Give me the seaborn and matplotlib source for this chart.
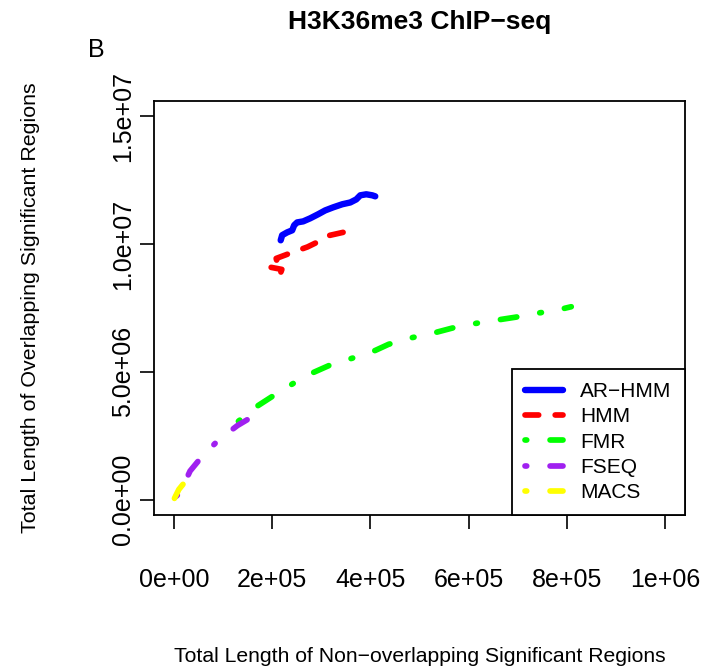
import matplotlib
matplotlib.use("Agg")
import matplotlib.pyplot as plt
import seaborn as sns
import pandas as pd

# Cumulative overlap curves for the H3K36me3 peak callers
methods = ["AR−HMM", "HMM", "FMR", "FSEQ", "MACS"]
colors = ["#0000FF", "#FF0000", "#00FF00", "#A020F0", "#FFFF00"]

ar_hmm_x = [217.4e3, 220.4e3, 230.6e3, 240.8e3, 244.9e3, 251.0e3, 263.2e3, 277.5e3, 293.8e3,
            308.1e3, 324.4e3, 342.8e3, 359.1e3, 371.3e3, 379.5e3, 391.7e3, 403.9e3, 410.0e3]
ar_hmm_y = [10.15e6, 10.35e6, 10.46e6, 10.54e6, 10.74e6, 10.85e6, 10.89e6, 11.01e6, 11.17e6,
            11.32e6, 11.44e6, 11.56e6, 11.63e6, 11.75e6, 11.91e6, 11.95e6, 11.91e6, 11.87e6]

hmm_x = [198.0e3, 219.8e3, 216.4e3, 208.2e3, 238.8e3, 272.0e3, 291.2e3, 309.6e3, 349.0e3]
hmm_y = [9.09e6, 9.01e6, 8.83e6, 9.44e6, 9.66e6, 9.89e6, 10.07e6, 10.31e6, 10.48e6]

fmr_x = [131.3e3, 168.8e3, 202.7e3, 242.3e3, 284.3e3, 318.3e3, 363.8e3, 410.1e3, 437.2e3,
         484.9e3, 532.4e3, 569.8e3, 615.4e3, 658.3e3, 695.6e3, 737.8e3, 780.6e3, 809.2e3]
fmr_y = [3.07e6, 3.65e6, 4.07e6, 4.54e6, 4.98e6, 5.27e6, 5.54e6, 5.84e6, 6.08e6,
         6.34e6, 6.54e6, 6.73e6, 6.90e6, 7.03e6, 7.14e6, 7.29e6, 7.42e6, 7.55e6]

fseq_x = [4.3e3, 12.4e3, 32.8e3, 56.7e3, 90.5e3, 129.3e3, 160.7e3]
fseq_y = [0.13e6, 0.27e6, 1.12e6, 1.68e6, 2.33e6, 2.90e6, 3.26e6]

macs_x = [1.0e3, 10.0e3, 22.6e3]
macs_y = [0.05e6, 0.40e6, 0.70e6]

x_ticks = [0, 2e5, 4e5, 6e5, 8e5, 1e6]
x_tick_labels = ["0e+00", "2e+05", "4e+05", "6e+05", "8e+05", "1e+06"]
y_ticks = [0, 5e6, 1e7, 1.5e7]
y_tick_labels = ["0.0e+00", "5.0e+06", "1.0e+07", "1.5e+07"]

series = [(ar_hmm_x, ar_hmm_y), (hmm_x, hmm_y), (fmr_x, fmr_y), (fseq_x, fseq_y), (macs_x, macs_y)]
# dash patterns in line-width units: solid, dashed, dot-dash
patterns = [None, (2.4, 2.9), (0.3, 4.1, 2.9, 4.1), (0.3, 4.1, 2.9, 4.1), (0.3, 4.1, 2.9, 4.1)]
offsets = [0, 0, 0, 0, 4.4]
widths = [4.6, 4.1, 4.1, 4.1, 4.1]

sns.set_style("ticks")
plt.rcParams["font.family"] = ["Liberation Sans", "DejaVu Sans"]
plt.rcParams["text.color"] = "black"
plt.rcParams["axes.labelcolor"] = "black"

fig = plt.figure(figsize=(7.03, 6.69), dpi=100)
ax = fig.add_axes([0.2195, 0.2302, 0.7543, 0.6188])

handles = []
for name, col, (xs, ys), pat, off, lw in zip(methods, colors, series, patterns, offsets, widths):
    df = pd.DataFrame({"x": xs, "y": ys})
    sns.lineplot(data=df, x="x", y="y", color=col, lw=lw, sort=False,
                 estimator=None, label=name, ax=ax)
    line = ax.lines[-1]
    line.set_solid_capstyle("round")
    line.set_dash_capstyle("round")
    line.set_solid_joinstyle("round")
    line.set_dash_joinstyle("round")
    if pat is not None:
        line.set_linestyle((off, pat))
    handles.append(line)

ax.set_xlim(-40000, 1040000)
ax.set_ylim(-600000, 15600000)
ax.set_xticks(x_ticks)
ax.set_xticklabels(x_tick_labels)
ax.set_yticks(y_ticks)
ax.set_yticklabels(y_tick_labels, rotation=90, va="center")

for sp in ax.spines.values():
    sp.set_visible(True)
    sp.set_color("black")
    sp.set_linewidth(1.3)

ax.tick_params(axis="both", direction="out", length=10, width=1.2, color="black",
               labelsize=18, labelcolor="black")
ax.tick_params(axis="x", pad=28)
ax.tick_params(axis="y", pad=4)

ax.set_xlabel("Total Length of Non−overlapping Significant Regions", fontsize=15.2,
              color="black")
ax.xaxis.set_label_coords(0.5, (515 - 657) / 414)
ax.xaxis.label.set_va("center")
ax.set_ylabel("Total Length of Overlapping Significant Regions", fontsize=15.4,
              color="black")
ax.yaxis.set_label_coords((30 - 154.3) / 530.3, 0.5)
ax.yaxis.label.set_va("center")

ax.set_title("H3K36me3 ChIP−seq", fontsize=19, fontweight="bold", color="black",
             y=(515 - 22) / 414, va="center", pad=0)
fig.text(96 / 703, 1 - 50 / 669, "B", fontsize=18, ha="center", va="center", color="black")

# legend samples all start with the dot of the pattern
leg = ax.legend(loc="lower right", borderaxespad=0, fancybox=False, framealpha=1,
                edgecolor="black", fontsize=15, handlelength=1.8, handletextpad=0.85,
                labelspacing=0.3, borderpad=0.62)
leg.get_frame().set_linewidth(1.3)
for t in leg.get_texts():
    t.set_color("black")
for lh in leg.get_lines():
    ls = lh.get_linestyle()
    if lh.get_color() in ("#FFFF00",):
        lh.set_linestyle((0, (0.3, 4.1, 2.9, 4.1)))

fig.savefig("out.png", dpi=100)
